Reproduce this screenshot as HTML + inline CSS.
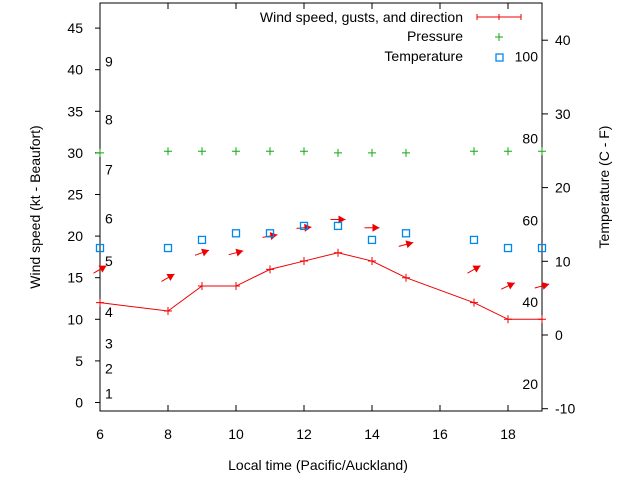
<!DOCTYPE html>
<html><head><meta charset="utf-8">
<style>
body{margin:0;background:#fff;}
svg{display:block;font-family:"Liberation Sans",sans-serif;}
</style></head>
<body>
<svg id="chart" width="640" height="480" viewBox="0 0 640 480" xmlns="http://www.w3.org/2000/svg">
<g id="axes"></g>
<g id="marks"></g>
<text x="318" y="470" font-size="14" text-anchor="middle">Local time (Pacific/Auckland)</text>
<text transform="translate(40,207) rotate(-90)" font-size="14" text-anchor="middle">Wind speed (kt - Beaufort)</text>
<text transform="translate(609,187) rotate(-90)" font-size="14" text-anchor="middle">Temperature (C - F)</text>
<g>
<text x="463" y="22" font-size="14" text-anchor="end">Wind speed, gusts, and direction</text>
<path d="M477 17H521M477 14V20M521 14V20M499 14V20" stroke="#e00" stroke-width="1" fill="none"/>
<text x="463" y="41" font-size="14" text-anchor="end">Pressure</text>
<path d="M495 37H503M499 33V41" stroke="#1a1" stroke-width="1"/>
<text x="463" y="61" font-size="14" text-anchor="end">Temperature</text>
<rect x="496" y="54" width="7" height="7" fill="none" stroke="#08e" stroke-width="1.3"/>
</g>
<script>
const hours=[6,8,9,10,11,12,13,14,15,17,18,19];
const windKt=[12,11,14,14,16,17,18,17,15,12,10,10];
const gustKt=[16,15,18,18,20,21,22,21,19,16,14,14];
const dirDeg=[30,30,20,15,10,5,0,0,15,30,25,15];
const pressureHours=[6,8,9,10,11,12,13,14,15,17,18,19];
const pressure=[30.0,30.2,30.2,30.2,30.2,30.2,30.0,30.0,30.0,30.2,30.2,30.2];
const tempC=[11.8,11.8,12.9,13.8,13.8,14.8,14.8,12.9,13.8,12.9,11.8,11.8];
const xTicks=[6,8,10,12,14,16,18];
const yTicks=[0,5,10,15,20,25,30,35,40,45];
const y2Ticks=[-10,0,10,20,30,40];
const fTicks=[20,40,60,80,100];
const beaufort=[[1,1.1],[2,4.1],[3,7.1],[4,10.9],[5,17],[6,22.1],[7,28],[8,34],[9,41]];

const L=100,R=542,T=3,B=411;
const X=h=>L+(h-6)*(R-L)/13;
const Y=v=>402.5-v*8.32;
const Y2=c=>335-c*7.37;
const NS='http://www.w3.org/2000/svg';
const axes=document.getElementById('axes'),marks=document.getElementById('marks');
function mk(tag,attrs,parent,txt){const e=document.createElementNS(NS,tag);for(const k in attrs)e.setAttribute(k,attrs[k]);if(txt!==undefined)e.textContent=txt;parent.appendChild(e);return e;}

let e=mk('rect',{x:L,y:T,width:R-L,height:B-T,fill:'none',stroke:'#000','stroke-width':1},axes);


xTicks.forEach(h=>{
  const x=X(h);
  let t=mk('path',{d:`M${x} ${B}v-6M${x} ${T}v6`,stroke:'#000'},axes);
  
  
  let l=mk('text',{x:x,y:B+28,'font-size':14,'text-anchor':'middle'},axes,String(h));
  
  
});
yTicks.forEach(v=>{
  const y=Y(v);
  let t=mk('path',{d:`M${L} ${y}h-5`,stroke:'#000'},axes);
  
  
  let l=mk('text',{x:L-17,y:y+5,'font-size':14,'text-anchor':'end'},axes,String(v));
  
  
});
beaufort.forEach(b=>{
  let l=mk('text',{x:105,y:Y(b[1])+5,'font-size':14},axes,String(b[0]));
  
  
});
y2Ticks.forEach(c=>{
  const y=Y2(c);
  let t=mk('path',{d:`M${R} ${y}h6`,stroke:'#000'},axes);
  
  
  let l=mk('text',{x:R+13,y:y+5,'font-size':14},axes,String(c));
  
  
});
fTicks.forEach(f=>{
  const c=(f-32)*5/9;
  let l=mk('text',{x:R-4,y:Y2(c)+5,'font-size':14,'text-anchor':'end'},axes,String(f));
  
  
});
let pts=hours.map((h,i)=>`${X(h)},${Y(windKt[i])}`).join(' ');
let line=mk('polyline',{points:pts,fill:'none',stroke:'#e00','stroke-width':1},marks);


hours.forEach((h,i)=>{
  const x=X(h),y=Y(windKt[i]);
  let p=mk('path',{d:`M${x-4} ${y}h8M${x} ${y-4}v8`,stroke:'#e00'},marks);
  
  
});
hours.forEach((h,i)=>{
  const cx=X(h),cy=Y(gustKt[i]),a=dirDeg[i]*Math.PI/180,len=15;
  const dx=Math.cos(a),dy=-Math.sin(a);
  const x1=cx-dx*len/2,y1=cy-dy*len/2,x2=cx+dx*len/2,y2=cy+dy*len/2;
  const px=-dy,py=dx;
  const hx=x2-dx*7,hy=y2-dy*7;
  let g=mk('g',{},marks);
  
  
  mk('line',{x1:x1,y1:y1,x2:x2,y2:y2,stroke:'#e00','stroke-width':1},g);
  mk('polygon',{points:`${x2},${y2} ${hx+px*4},${hy+py*4} ${hx-px*4},${hy-py*4}`,fill:'#e00'},g);
});
pressureHours.forEach((h,i)=>{
  const x=X(h),y=Y(pressure[i]);
  let p=mk('path',{d:`M${x-4} ${y}h8M${x} ${y-4}v8`,stroke:'#1a1'},marks);
  
  
});
hours.forEach((h,i)=>{
  const x=X(h),y=Y2(tempC[i]);
  let r=mk('rect',{x:x-3.5,y:y-3.5,width:7,height:7,fill:'none',stroke:'#08e','stroke-width':1.3},marks);
  
  
});
</script>
</svg>
</body></html>
